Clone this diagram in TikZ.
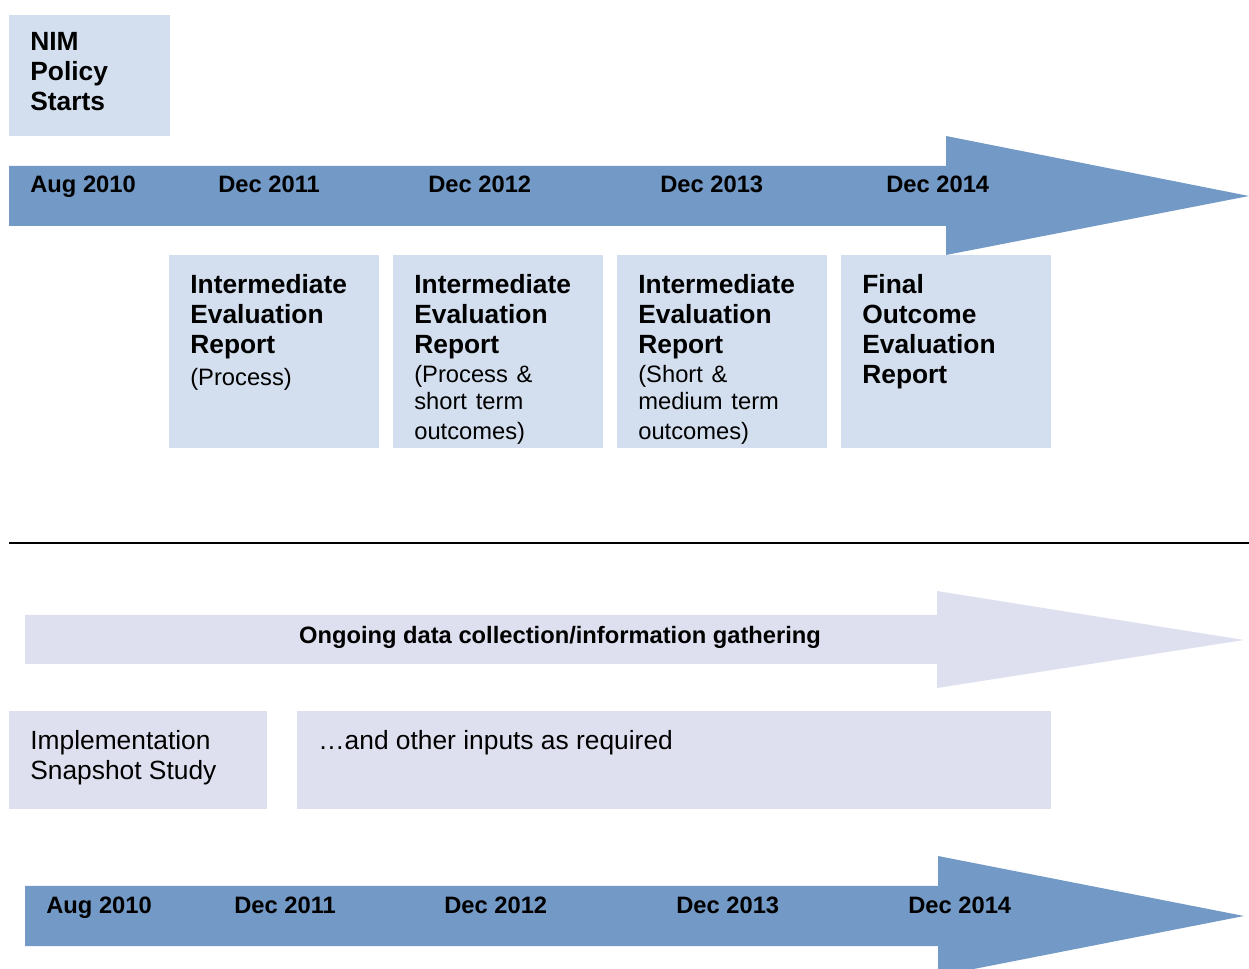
\documentclass[tikz,border=0pt]{standalone}
\usepackage{fontspec}
\setmainfont{Liberation Sans}
\usetikzlibrary{positioning}
\definecolor{timeblue}{RGB}{115,153,198}
\definecolor{cardblue}{RGB}{211,223,238}
\definecolor{datalilac}{RGB}{222,224,239}
\newcommand{\cardsub}{\vspace{1.2pt}\fontsize{13.5}{15.4}\selectfont\mdseries}

\begin{document}
\begin{tikzpicture}[x=0.02cm, y=-0.02cm,
  every node/.style={inner sep=0pt, align=left},
  card/.style={fill=cardblue, anchor=north west, minimum width=4.2cm, minimum height=3.86cm},
  cardtext/.style={text width=3.6cm, font=\fontsize{15}{17}\selectfont\bfseries},
  datelabel/.style={anchor=base west, font=\fontsize{13.5}{16}\selectfont\bfseries},
  plain/.style={font=\fontsize{15}{17}\selectfont}]
  \useasboundingbox (0,0) rectangle (1249,969);

  % upper timeline
  \node[fill=cardblue, anchor=north west, minimum width=3.22cm, minimum height=2.42cm] (nim) at (9,15) {};
  \node[font=\fontsize{15}{17}\selectfont\bfseries, below right=0.34cm and 0.42cm of nim.north west] (nimtext) {NIM\\Policy\\Starts};

  \fill[timeblue] (9,166) -- (946,166) -- (946,136) -- (1249,196) -- (946,255) -- (946,226) -- (9,226) -- cycle;
  \foreach \d/\x [count=\i] in {Aug 2010/30, Dec 2011/218, Dec 2012/428, Dec 2013/660, Dec 2014/886}
    \node[datelabel] (top\i) at (\x,193) {\d};

  \foreach \x [count=\i] in {169,393,617,841}
    \node[card] (rep\i) at (\x,255) {};
  \node[cardtext, below right=0.38cm and 0.42cm of rep1.north west] (rep1text) {Intermediate\\Evaluation\\Report\par\cardsub (Process)};
  \node[cardtext, below right=0.38cm and 0.42cm of rep2.north west] (rep2text) {Intermediate\\Evaluation\\Report\par\cardsub (Process \&\\short term\\outcomes)};
  \node[cardtext, below right=0.38cm and 0.42cm of rep3.north west] (rep3text) {Intermediate\\Evaluation\\Report\par\cardsub (Short \&\\medium term\\outcomes)};
  \node[cardtext, below right=0.38cm and 0.42cm of rep4.north west] (rep4text) {Final\\Outcome\\Evaluation\\Report};

  % divider
  \coordinate (ruleL) at (9,543);
  \coordinate (ruleR) at (1249,543);
  \draw[line width=1.1pt] (ruleL) -- (ruleR);

  % lower timeline
  \fill[datalilac] (25,615) -- (937,615) -- (937,591) -- (1244,640) -- (937,688) -- (937,664) -- (25,664) -- cycle;
  \node[font=\fontsize{13.5}{16}\selectfont\bfseries, anchor=base] (ongoing) at (560,644) {Ongoing data collection/information gathering};

  \node[fill=datalilac, anchor=north west, minimum width=5.16cm, minimum height=1.96cm] (snap) at (9,711) {};
  \node[plain, below right=0.38cm and 0.42cm of snap.north west] (snaptext) {Implementation\\Snapshot Study};
  \node[fill=datalilac, anchor=north west, minimum width=15.08cm, minimum height=1.96cm] (other) at (297,711) {};
  \node[plain, below right=0.38cm and 0.42cm of other.north west] (othertext) {…and other inputs as required};

  \fill[timeblue] (25,886) -- (938,886) -- (938,856) -- (1244,916) -- (938,976) -- (938,946) -- (25,946) -- cycle;
  \foreach \d/\x [count=\i] in {Aug 2010/46, Dec 2011/234, Dec 2012/444, Dec 2013/676, Dec 2014/908}
    \node[datelabel] (low\i) at (\x,913) {\d};
\end{tikzpicture}
\end{document}
